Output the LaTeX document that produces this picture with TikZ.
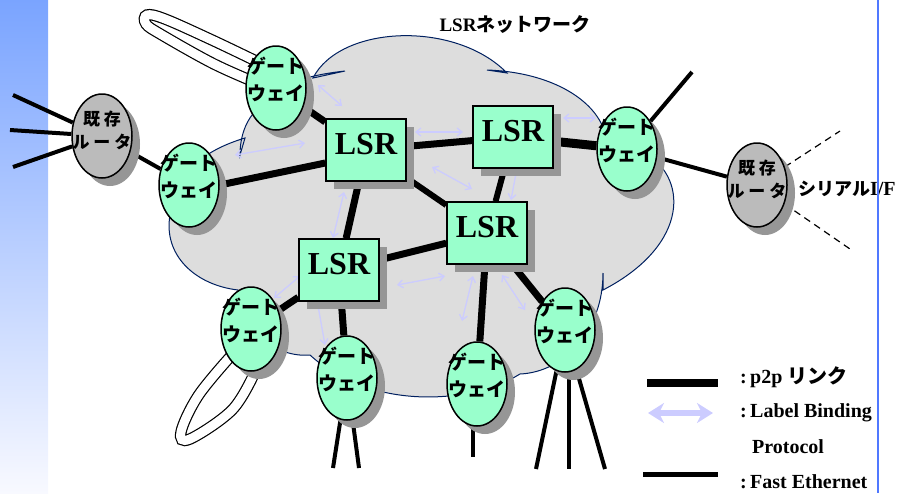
\documentclass[tikz,border=0pt]{standalone}
\usepackage{fontspec}
\setmainfont{Liberation Serif}
\newfontfamily\jpfont{Noto Sans CJK JP}
\usetikzlibrary{shapes.geometric,shadows,arrows.meta}
\pgfdeclarelayer{bg}
\pgfsetlayers{bg,main}
\definecolor{gwgreen}{RGB}{153,255,204}
\definecolor{rtgray}{RGB}{187,187,187}
\definecolor{shadowgray}{RGB}{150,150,150}
\definecolor{cloudgray}{RGB}{221,221,221}
\definecolor{cloudblue}{RGB}{0,32,96}
\definecolor{lbpblue}{RGB}{204,204,255}
\definecolor{barblue}{RGB}{122,164,255}
\definecolor{barwhite}{RGB}{248,249,255}
\definecolor{edgeblue}{RGB}{80,120,255}
% two lines of text that do not change the size of the node
\newcommand{\twolinetext}[3]{\smash{\makebox[0pt]{\raisebox{#3}{\begin{tabular}[b]{@{}c@{}}#1\\#2\end{tabular}}}}}
\newcommand{\gatetext}{\twolinetext{ゲート}{ウェイ}{-12pt}}
\newcommand{\routertext}{\twolinetext{既 存}{ル ー タ}{-12pt}}

\begin{document}
\begin{tikzpicture}[x=1pt,y=-1pt,
    shadowed/.style={drop shadow={opacity=1,fill=shadowgray,shadow xshift=8pt,shadow yshift=-8pt}},
    gateway/.style={ellipse,draw,line width=1.5pt,fill=gwgreen,minimum width=60pt,minimum height=84pt,inner sep=0pt,shadowed,font=\jpfont\bfseries\fontsize{19}{27}\selectfont},
    router/.style={gateway,fill=rtgray,font=\jpfont\bfseries\fontsize{17}{23}\selectfont},
    lsr/.style={rectangle,draw,line width=1.5pt,fill=gwgreen,minimum width=80pt,minimum height=62pt,inner sep=0pt,text depth=12pt,shadowed,font=\bfseries\fontsize{32}{32}\selectfont},
    ptp/.style={line width=7pt},
    fastether/.style={line width=4pt},
    serialline/.style={line width=1.2pt,dash pattern=on 7pt off 5pt},
    lbp/.style={lbpblue,line width=1.3pt,{Straight Barb[length=5pt,width=8pt]}-{Straight Barb[length=5pt,width=8pt]}},
    loopband/.style={line width=1.2pt,double=white,double distance=9pt},
    legendtext/.style={anchor=base west,inner sep=0pt,font=\bfseries\fontsize{20}{20}\selectfont}]
  \useasboundingbox (0,0) rectangle (899,493);
  \def\cloudpath{(238,290) .. controls (195,285) and (163,255) .. (170,215)
    .. controls (175,172) and (205,150) .. (245,138) -- (240,155)
    .. controls (240,125) and (255,105) .. (275,98)
    .. controls (285,85) and (300,76) .. (345,71) -- (313,78)
    .. controls (340,25) and (455,20) .. (507,73) -- (487,70)
    .. controls (545,72) and (588,95) .. (602,125)
    .. controls (612,140) and (628,148) .. (640,150)
    .. controls (690,175) and (690,245) .. (603,290) -- (603,273)
    .. controls (603,330) and (565,372) .. (520,374)
    .. controls (470,405) and (370,410) .. (310,355)
    .. controls (275,358) and (242,330) .. (238,290) -- cycle}

  % label switching routers
  \node[lsr] (l1) at (366,150) {LSR};
  \node[lsr] (l2) at (513,137) {LSR};
  \node[lsr] (l3) at (339,270) {LSR};
  \node[lsr] (l4) at (487,233) {LSR};

  % gateways and old routers
  \node[gateway] (g1) at (276,88) {\gatetext};
  \node[gateway] (g2) at (189,185) {\gatetext};
  \node[gateway] (g3) at (627,149) {\gatetext};
  \node[gateway] (g4) at (251,329) {\gatetext};
  \node[gateway] (g5) at (347,378) {\gatetext};
  \node[gateway] (g6) at (477,384) {\gatetext};
  \node[gateway] (g7) at (565,330) {\gatetext};
  \node[router] (r1) at (102,136) {\routertext};
  \node[router] (r2) at (757,185) {\routertext};

  % free ends of the lines
  \coordinate (e1) at (13,95);
  \coordinate (e2) at (10,130);
  \coordinate (e3) at (13,167);
  \coordinate (e4) at (692,72);
  \coordinate (e5) at (333,468);
  \coordinate (e6) at (359,468);
  \coordinate (e7) at (473,457);
  \coordinate (e8) at (536,469);
  \coordinate (e9) at (569,469);
  \coordinate (e10) at (605,469);
  \coordinate (s1) at (840,131);
  \coordinate (s2) at (850,249);
  \coordinate (k1a) at (647,383);
  \coordinate (k1b) at (718,383);
  \coordinate (k2a) at (648,413);
  \coordinate (k2b) at (713,413);
  \coordinate (k3a) at (643,474);
  \coordinate (k3b) at (718,474);

  \begin{pgfonlayer}{bg}
    % side bar
    \shade[top color=barblue,bottom color=barwhite] (0,0) rectangle (48,493);

    % the cloud
    \fill[cloudgray] \cloudpath;
    \draw[cloudblue,line width=1pt] \cloudpath;

    % loops
    \draw[loopband] plot[smooth,tension=0.6] coordinates {(258,62) (212,40) (165,19) (147,15) (146,24) (162,35) (212,63) (252,81)};
    \draw[loopband] plot[smooth,tension=0.6] coordinates {(230,357) (198,396) (181,432) (190,439) (232,410) (254,374)};

    % fast ethernet
    \foreach \e in {e1,e2,e3} \draw[fastether] (\e) -- (r1);
    \draw[fastether] (r1) -- (g2);
    \draw[fastether] (g3) -- (r2);
    \draw[fastether] (g3) -- (e4);
    \draw[fastether] (g5) -- (e5);
    \draw[fastether] (g5) -- (e6);
    \draw[fastether] (e7 |- g6) -- (e7);
    \draw[fastether] (g7) -- (e8);
    \draw[fastether] (e9 |- g7) -- (e9);
    \draw[fastether] (g7) -- (e10);
    \draw[serialline] (r2) -- (s1);
    \draw[serialline] (r2) -- (s2);

    % p2p links
    \draw[ptp] (g1) -- (l1);
    \draw[ptp] (g2.east) -- ([yshift=-13pt]l1.west);
    \draw[ptp] (l1) -- (l2);
    \draw[ptp] (l1) -- (l3);
    \draw[ptp,line width=6pt] (l1) -- (l4);
    \draw[ptp,line width=6pt] (l2) -- (l4);
    \draw[ptp,line width=9pt] (l2) -- (g3);
    \draw[ptp] (l3) -- (l4);
    \draw[ptp] (l3) -- (g4);
    \draw[ptp] (l3) -- (g5);
    \draw[ptp] (l4) -- (g6);
    \draw[ptp] (l4) -- (g7);

    % label binding protocol
    \foreach \xa/\ya/\xb/\yb in {318/85/342/106, 235/155/305/143, 415/132/463/132,
        432/167/472/189, 563/118/596/118, 517/168/511/200, 344/192/333/238,
        300/276/274/298, 317/300/325/345, 397/285/445/276, 473/276/462/321,
        502/275/525/310}
      \draw[lbp] (\xa,\ya) -- (\xb,\yb);
  \end{pgfonlayer}

  % texts
  \node[anchor=base,inner sep=0pt,font=\bfseries\fontsize{19}{19}\selectfont] (title) at (515,31) {LSR{\jpfont ネットワーク}};
  \node[anchor=base west,inner sep=0pt,font=\bfseries\fontsize{18}{18}\selectfont] (serial) at (798,195) {{\jpfont シリアル}{\fontsize{20}{20}\selectfont I/F}};

  % legend
  \draw[ptp,line width=8pt] (k1a) -- (k1b);
  \draw[lbpblue,line width=6pt,{Stealth[length=16pt,width=20pt,inset=5pt]}-{Stealth[length=16pt,width=20pt,inset=5pt]}] (k2a) -- (k2b);
  \draw[line width=5pt] (k3a) -- (k3b);
  \node[legendtext] (key1) at (740,383) {:\,p2p {\jpfont リンク}};
  \node[legendtext] (key2) at (740,417) {:\,Label Binding};
  \node[legendtext] (key3) at (752,453) {Protocol};
  \node[legendtext] (key4) at (740,488) {:\,Fast Ethernet};

  % right edge
  \draw[edgeblue,line width=1.5pt] (878,0) -- (878,493);
\end{tikzpicture}
\end{document}
